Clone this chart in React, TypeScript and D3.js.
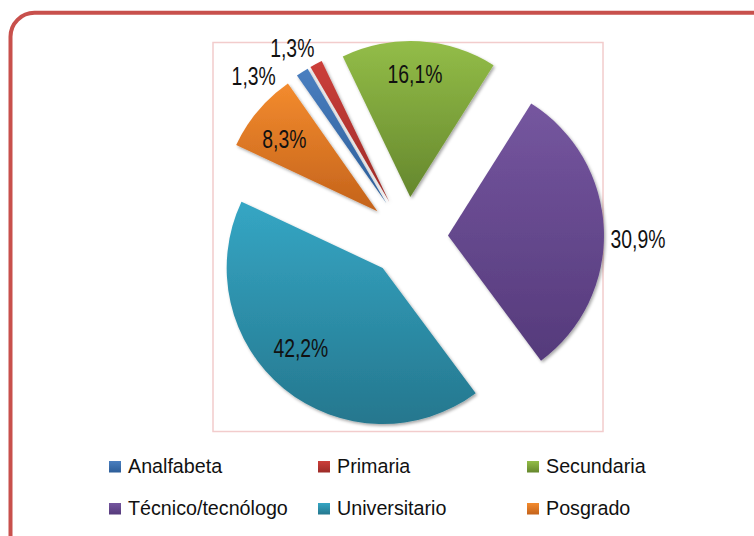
import React from "react";
import * as d3 from "d3";

const categories = ["Analfabeta", "Primaria", "Secundaria", "Técnico/tecnólogo", "Universitario", "Posgrado"];
const values = [1.3, 1.3, 16.1, 30.9, 42.2, 8.3];
const labels = ["1,3%", "1,3%", "16,1%", "30,9%", "42,2%", "8,3%"];

// styling (kept separate from data)
const colorTop = ["#4a7fc0", "#cc3f3a", "#93bd48", "#75569f", "#35a6c4", "#f38b2e"];
const colorBottom = ["#2c5d98", "#9c2b27", "#65872d", "#553a7b", "#25778e", "#c4631b"];
// label placement: [angle offset from slice mid (deg), distance from slice centre (px)]
const labelPlace: [number, number][] = [
  [-13.5, 184],
  [-4.2, 182],
  [-1.1, 123],
  [3.1, 190],
  [6.6, 114],
  [-2.1, 118],
];

const W = 754;
const H = 536;
const cx = 408;
const cy = 237;
const radius = 156;
const explode = 40;
const startDeg = -35;

export default function App() {
  const pie = d3
    .pie<number>()
    .sort(null)
    .value((d) => d)
    .startAngle((startDeg * Math.PI) / 180)
    .endAngle((startDeg * Math.PI) / 180 + Math.PI * 2);
  const arcs = pie(values);
  const arc = d3.arc<d3.PieArcDatum<number>>().innerRadius(0).outerRadius(radius);

  const legendX0 = 109;
  const legendColW = 209;
  const legendY0 = 461;
  const legendRowH = 42;

  return (
    <svg
      width={W}
      height={H}
      style={{ position: "absolute", left: 0, top: 0, background: "#fff" }}
      xmlns="http://www.w3.org/2000/svg"
    >
      <defs>
        {categories.map((c, i) => (
          <linearGradient key={c} id={`g${i}`} x1="0" y1="0" x2="0" y2="1">
            <stop offset="0%" stopColor={colorTop[i]} />
            <stop offset="100%" stopColor={colorBottom[i]} />
          </linearGradient>
        ))}
        <filter id="shadow" x="-20%" y="-20%" width="140%" height="140%">
          <feDropShadow dx="1.5" dy="1.8" stdDeviation="1.6" floodColor="#000" floodOpacity="0.35" />
        </filter>
      </defs>
      <rect x={0} y={0} width={W} height={H} fill="#fff" />
      <rect
        x={10.5}
        y={12.8}
        width={780}
        height={560}
        rx={24}
        ry={24}
        fill="#fff"
        stroke="#c8504c"
        strokeWidth={4}
      />
      {/* plot area */}
      <rect x={213} y={42.5} width={390} height={389} fill="none" stroke="#f2cccc" strokeWidth={1.5} />
      {arcs.map((a, i) => {
        const mid = (a.startAngle + a.endAngle) / 2;
        const ox = cx + explode * Math.sin(mid);
        const oy = cy - explode * Math.cos(mid);
        return (
          <g key={categories[i]} transform={`translate(${ox},${oy})`}>
            <path d={arc(a) || ""} fill={`url(#g${i})`} filter="url(#shadow)" />
          </g>
        );
      })}
      {arcs.map((a, i) => {
        const mid = (a.startAngle + a.endAngle) / 2;
        const ox = cx + explode * Math.sin(mid);
        const oy = cy - explode * Math.cos(mid);
        const ang = mid + (labelPlace[i][0] * Math.PI) / 180;
        const r = labelPlace[i][1];
        const lx = ox + r * Math.sin(ang);
        const ly = oy - r * Math.cos(ang);
        return (
          <text
            key={`l${i}`}
            transform={`translate(${lx},${ly}) scale(1,1.32)`}
            dy="0.36em"
            textAnchor="middle"
            fontFamily="'Liberation Sans', Arial, sans-serif"
            fontSize={19.4}
            fill="#111"
          >
            {labels[i]}
          </text>
        );
      })}
      {categories.map((c, i) => {
        const x = legendX0 + (i % 3) * legendColW;
        const y = legendY0 + Math.floor(i / 3) * legendRowH;
        return (
          <g key={`lg${i}`}>
            <rect x={x} y={y} width={12} height={11.5} fill={`url(#g${i})`} />
            <text
              x={x + 19}
              y={y + 12}
              fontFamily="'Liberation Sans', Arial, sans-serif"
              fontSize={19.7}
              fill="#111"
            >
              {c}
            </text>
          </g>
        );
      })}
    </svg>
  );
}
